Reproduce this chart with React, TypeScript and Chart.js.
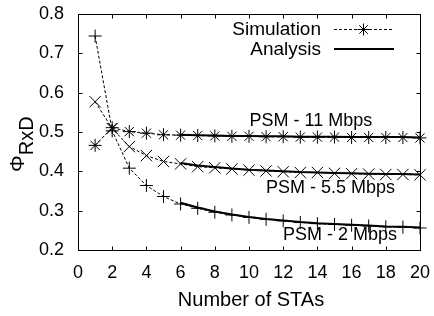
import React, { useEffect, useRef } from 'react';
import { Chart, registerables } from 'chart.js';

Chart.register(...registerables);

// ---- data ----
const simStations = [1, 2, 3, 4, 5, 6, 7, 8, 9, 10, 11, 12, 13, 14, 15, 16, 17, 18, 19, 20];
const sim11 = [0.466, 0.511, 0.501, 0.497, 0.493, 0.492, 0.491, 0.490, 0.489, 0.489, 0.488, 0.488, 0.487, 0.487, 0.487, 0.486, 0.486, 0.486, 0.486, 0.485];
const sim55 = [0.577, 0.509, 0.463, 0.440, 0.425, 0.419, 0.412, 0.409, 0.406, 0.403, 0.401, 0.399, 0.397, 0.397, 0.395, 0.394, 0.393, 0.392, 0.392, 0.391];
const sim2 = [0.744, 0.503, 0.408, 0.364, 0.336, 0.317, 0.306, 0.296, 0.289, 0.283, 0.278, 0.274, 0.270, 0.267, 0.265, 0.263, 0.261, 0.259, 0.258, 0.256];

const anaStations = [6, 7, 8, 9, 10, 11, 12, 13, 14, 15, 16, 17, 18, 19, 20];
const ana11 = [0.493, 0.492, 0.491, 0.490, 0.490, 0.489, 0.489, 0.488, 0.488, 0.488, 0.487, 0.487, 0.487, 0.487, 0.486];
const ana55 = [0.421, 0.415, 0.411, 0.407, 0.404, 0.402, 0.400, 0.398, 0.397, 0.396, 0.395, 0.394, 0.393, 0.393, 0.392];
const ana2 = [0.320, 0.308, 0.298, 0.290, 0.284, 0.279, 0.275, 0.271, 0.268, 0.266, 0.264, 0.262, 0.260, 0.259, 0.257];

const seriesNames = ['PSM - 11 Mbps', 'PSM - 5.5 Mbps', 'PSM - 2 Mbps'];
const seriesLabelAnchorX = [13.62, 14.76, 15.32];
const seriesLabelAnchorY = [0.529, 0.357, 0.238];

const xTickValues = [0, 2, 4, 6, 8, 10, 12, 14, 16, 18, 20];
const yTickValues = [0.2, 0.3, 0.4, 0.5, 0.6, 0.7, 0.8];

const legendNames = ['Simulation', 'Analysis'];
const xTitle = 'Number of STAs';
const yTitleMain = 'Φ';
const yTitleSub = 'RxD';

const FONT = "'Liberation Sans', Arial, Helvetica, sans-serif";

const pts = (xs: number[], ys: number[]) => xs.map((x, i) => ({ x, y: ys[i] }));

const framePlugin = {
  id: 'frame',
  afterDraw(chart: any) {
    const ctx = chart.ctx;
    const a = chart.chartArea;
    const xs = chart.scales.x;
    const ys = chart.scales.y;
    ctx.save();
    ctx.strokeStyle = '#000000';
    ctx.lineWidth = 1;
    ctx.setLineDash([]);
    const L = Math.round(a.left) + 0.5;
    const R = Math.round(a.right) + 0.5;
    const T = Math.round(a.top) + 0.5;
    const B = Math.round(a.bottom) + 0.5;
    ctx.strokeRect(L, T, R - L, B - T);
    const tl = 4;
    ctx.beginPath();
    for (const v of xTickValues) {
      const p = Math.round(xs.getPixelForValue(v)) + 0.5;
      ctx.moveTo(p, B);
      ctx.lineTo(p, B - tl);
      ctx.moveTo(p, T);
      ctx.lineTo(p, T + tl);
    }
    for (const v of yTickValues) {
      const p = Math.round(ys.getPixelForValue(v)) + 0.5;
      ctx.moveTo(L, p);
      ctx.lineTo(L + tl, p);
      ctx.moveTo(R, p);
      ctx.lineTo(R - tl, p);
    }
    ctx.stroke();
    ctx.restore();
  },
};

const textPlugin = {
  id: 'texts',
  afterDraw(chart: any) {
    const ctx = chart.ctx;
    const xs = chart.scales.x;
    const ys = chart.scales.y;
    ctx.save();
    ctx.fillStyle = '#000';
    ctx.strokeStyle = '#000';

    // series labels
    ctx.font = `18px ${FONT}`;
    ctx.textAlign = 'center';
    ctx.textBaseline = 'middle';
    seriesNames.forEach((n, i) => {
      ctx.fillText(n, xs.getPixelForValue(seriesLabelAnchorX[i]), ys.getPixelForValue(seriesLabelAnchorY[i]));
    });

    // legend
    ctx.font = `19px ${FONT}`;
    ctx.textAlign = 'right';
    ctx.fillText(legendNames[0], 321, 30);
    ctx.fillText(legendNames[1], 321, 50);
    ctx.beginPath();
    ctx.setLineDash([3, 2]);
    ctx.lineWidth = 1;
    ctx.moveTo(334, 29.5);
    ctx.lineTo(393, 29.5);
    ctx.stroke();
    ctx.setLineDash([]);
    const sx = 363.5, sy = 29.5, r = 6, d = r * Math.SQRT1_2;
    ctx.beginPath();
    ctx.moveTo(sx - r, sy); ctx.lineTo(sx + r, sy);
    ctx.moveTo(sx, sy - r); ctx.lineTo(sx, sy + r);
    ctx.moveTo(sx - d, sy - d); ctx.lineTo(sx + d, sy + d);
    ctx.moveTo(sx - d, sy + d); ctx.lineTo(sx + d, sy - d);
    ctx.stroke();
    ctx.beginPath();
    ctx.lineWidth = 2;
    ctx.moveTo(334, 49);
    ctx.lineTo(394, 49);
    ctx.stroke();

    // x title
    ctx.font = `20px ${FONT}`;
    ctx.textAlign = 'center';
    ctx.textBaseline = 'middle';
    ctx.fillText(xTitle, 251, 300);

    // y title (rotated, with subscript)
    ctx.save();
    ctx.translate(24, 172);
    ctx.rotate(-Math.PI / 2);
    ctx.textAlign = 'left';
    ctx.textBaseline = 'alphabetic';
    ctx.font = `21px ${FONT}`;
    ctx.fillText(yTitleMain, 0, 0);
    const w = ctx.measureText(yTitleMain).width;
    ctx.font = `20px ${FONT}`;
    ctx.fillText(yTitleSub, w, 8.5);
    ctx.restore();

    ctx.restore();
  },
};

export default function App() {
  const ref = useRef<HTMLCanvasElement | null>(null);
  useEffect(() => {
    if (!ref.current) return;
    Chart.defaults.font.family = FONT;
    const simStyle = {
      borderColor: '#000',
      borderWidth: 1,
      borderDash: [3, 2],
      pointBorderColor: '#000',
      pointBackgroundColor: 'rgba(0,0,0,0)',
      pointBorderWidth: 1,
      tension: 0,
      fill: false,
    };
    const anaStyle = {
      borderColor: '#000',
      borderWidth: 2,
      pointRadius: 0,
      tension: 0,
      fill: false,
    };
    const chart = new Chart(ref.current, {
      type: 'line',
      data: {
        datasets: [
          { label: 'Simulation 11', data: pts(simStations, sim11), pointStyle: 'star', pointRadius: 6.5, ...simStyle },
          { label: 'Simulation 5.5', data: pts(simStations, sim55), pointStyle: 'crossRot', pointRadius: 8, ...simStyle },
          { label: 'Simulation 2', data: pts(simStations, sim2), pointStyle: 'cross', pointRadius: 6.5, ...simStyle },
          { label: 'Analysis 11', data: pts(anaStations, ana11), ...anaStyle },
          { label: 'Analysis 5.5', data: pts(anaStations, ana55), ...anaStyle },
          { label: 'Analysis 2', data: pts(anaStations, ana2), ...anaStyle },
        ],
      },
      options: {
        responsive: false,
        animation: false,
        clip: false,
        layout: { padding: { top: 14, right: 14, left: 0, bottom: 0 } },
        plugins: { legend: { display: false }, tooltip: { enabled: false }, title: { display: false } },
        scales: {
          x: {
            type: 'linear',
            min: 0,
            max: 20,
            grid: { display: false, drawTicks: false },
            border: { display: false },
            ticks: { stepSize: 2, padding: 12, color: '#000', font: { size: 18, family: FONT } },
            afterFit: (s: any) => { s.height = 66; s.paddingLeft = 0; s.paddingRight = 0; },
          },
          y: {
            type: 'linear',
            min: 0.2,
            max: 0.8,
            grid: { display: false, drawTicks: false },
            border: { display: false },
            ticks: {
              stepSize: 0.1,
              padding: 14,
              color: '#000',
              font: { size: 18, family: FONT },
              callback: (v: any) => Number(v).toFixed(1),
            },
            afterFit: (s: any) => { s.width = 78; s.paddingTop = 0; s.paddingBottom = 0; },
          },
        },
      } as any,
      plugins: [framePlugin, textPlugin],
    });
    return () => chart.destroy();
  }, []);
  return (
    <div style={{ position: 'absolute', left: 0, top: 0, width: 434, height: 316, background: '#fff' }}>
      <canvas ref={ref} width={434} height={316} style={{ display: 'block' }} />
    </div>
  );
}
